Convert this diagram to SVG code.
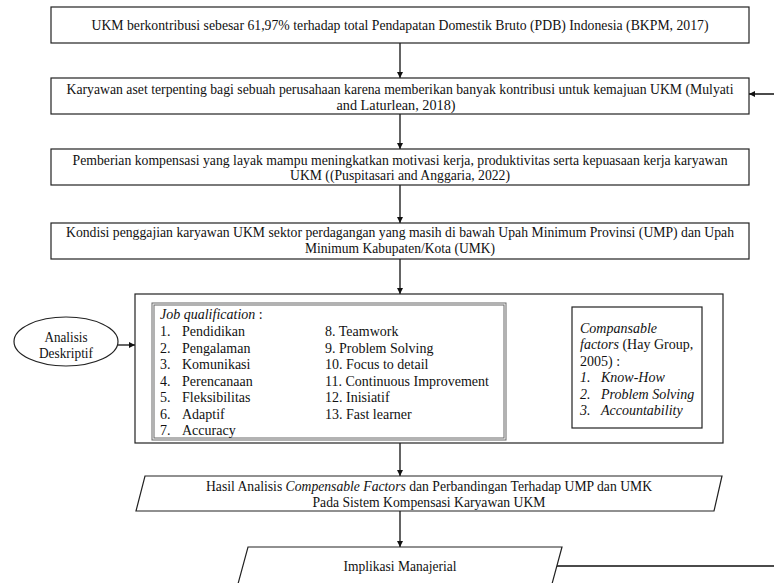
<svg xmlns="http://www.w3.org/2000/svg" width="774" height="583" viewBox="0 0 774 583">
<style>
.t{font-family:'Liberation Serif','Tinos','Times New Roman','DejaVu Serif',serif;font-size:14px;fill:#111}
.m{text-anchor:middle}
.l{font-size:14px}
.i{font-style:italic}
.b{fill:#fff;stroke:#222;stroke-width:1.2}
.g{fill:none;stroke:#666;stroke-width:1}
.c{fill:none;stroke:#111;stroke-width:1.3}
</style>
<defs>
<marker id="ah" viewBox="0 0 8 8" refX="8" refY="4" markerWidth="6" markerHeight="6" markerUnits="userSpaceOnUse" orient="auto">
<path d="M0,0 L8,4 L0,8 z" fill="#111"/>
</marker>
</defs>
<rect width="774" height="583" fill="#fff"/>
<g id="connectors">
<line class="c" x1="400" y1="43" x2="400" y2="78" marker-end="url(#ah)"/>
<line class="c" x1="400" y1="114" x2="400" y2="149" marker-end="url(#ah)"/>
<line class="c" x1="400" y1="185" x2="400" y2="223" marker-end="url(#ah)"/>
<line class="c" x1="400" y1="259" x2="400" y2="294" marker-end="url(#ah)"/>
<line class="c" x1="400" y1="443" x2="400" y2="476" marker-end="url(#ah)"/>
<line class="c" x1="400" y1="511" x2="400" y2="547" marker-end="url(#ah)"/>
<line class="c" x1="118" y1="345" x2="135" y2="345" marker-end="url(#ah)"/>
<polyline class="c" points="557,566 790,566 790,94 749,94" marker-end="url(#ah)"/>
</g>
<g id="n1">
<rect class="b" x="51" y="7" width="698" height="36"/>
<text class="t m" x="400" y="30" textLength="617" lengthAdjust="spacingAndGlyphs">UKM berkontribusi sebesar 61,97% terhadap total Pendapatan Domestik Bruto (PDB) Indonesia (BKPM, 2017)</text>
</g>
<g id="n2">
<rect class="b" x="51" y="78" width="698" height="36"/>
<text class="t m" x="400" y="94" textLength="667" lengthAdjust="spacingAndGlyphs">Karyawan aset terpenting bagi sebuah perusahaan karena memberikan banyak kontribusi untuk kemajuan UKM (Mulyati</text>
<text class="t m" x="396" y="110" textLength="119" lengthAdjust="spacingAndGlyphs">and Laturlean, 2018)</text>
</g>
<g id="n3">
<rect class="b" x="51" y="149" width="698" height="36"/>
<text class="t m" x="400" y="165" textLength="655" lengthAdjust="spacingAndGlyphs">Pemberian kompensasi yang layak mampu meningkatkan motivasi kerja, produktivitas serta kepuasaan kerja karyawan</text>
<text class="t m" x="400" y="180" textLength="220" lengthAdjust="spacingAndGlyphs">UKM ((Puspitasari and Anggaria, 2022)</text>
</g>
<g id="n4">
<rect class="b" x="51" y="223" width="698" height="36"/>
<text class="t m" x="400" y="237" textLength="668" lengthAdjust="spacingAndGlyphs">Kondisi penggajian karyawan UKM sektor perdagangan yang masih di bawah Upah Minimum Provinsi (UMP) dan Upah</text>
<text class="t m" x="400" y="253" textLength="190" lengthAdjust="spacingAndGlyphs">Minimum Kabupaten/Kota (UMK)</text>
</g>
<g id="n5">
<rect class="b" x="135" y="294" width="588" height="149"/>
<rect class="g" x="152" y="303" width="354" height="137"/>
<rect class="g" x="154" y="305" width="350" height="133"/>
<text class="t l" x="160" y="319"><tspan class="i">Job qualification</tspan> :</text>
<text class="t l" x="160" y="336">1.</text><text class="t l" x="182" y="336">Pendidikan</text>
<text class="t l" x="160" y="352.5">2.</text><text class="t l" x="182" y="352.5">Pengalaman</text>
<text class="t l" x="160" y="369">3.</text><text class="t l" x="182" y="369">Komunikasi</text>
<text class="t l" x="160" y="385.5">4.</text><text class="t l" x="182" y="385.5">Perencanaan</text>
<text class="t l" x="160" y="402">5.</text><text class="t l" x="182" y="402">Fleksibilitas</text>
<text class="t l" x="160" y="418.5">6.</text><text class="t l" x="182" y="418.5">Adaptif</text>
<text class="t l" x="160" y="435">7.</text><text class="t l" x="182" y="435">Accuracy</text>
<text class="t l" x="325" y="336">8. Teamwork</text>
<text class="t l" x="325" y="352.5">9. Problem Solving</text>
<text class="t l" x="325" y="369">10. Focus to detail</text>
<text class="t l" x="325" y="385.5">11. Continuous Improvement</text>
<text class="t l" x="325" y="402">12. Inisiatif</text>
<text class="t l" x="325" y="418.5">13. Fast learner</text>
</g>
<g id="n6">
<rect class="b" x="572" y="307" width="130" height="121"/>
<text class="t l i" x="580" y="333">Compansable</text>
<text class="t l" x="580" y="349"><tspan class="i">factors</tspan> (Hay Group,</text>
<text class="t l" x="580" y="366">2005) :</text>
<text class="t l i" x="580" y="382">1.</text><text class="t l i" x="601" y="382">Know-How</text>
<text class="t l i" x="580" y="399">2.</text><text class="t l i" x="601" y="399">Problem Solving</text>
<text class="t l i" x="580" y="415">3.</text><text class="t l i" x="601" y="415">Accountability</text>
</g>
<g id="n7">
<ellipse class="b" cx="66" cy="341.5" rx="52" ry="24.5"/>
<text class="t m" x="66" y="342" textLength="43" lengthAdjust="spacingAndGlyphs">Analisis</text>
<text class="t m" x="66" y="358" textLength="54" lengthAdjust="spacingAndGlyphs">Deskriptif</text>
</g>
<g id="n8">
<polygon class="b" points="145,476 722,476 714,511 136,511"/>
<text class="t m" x="429" y="490.5" textLength="446" lengthAdjust="spacingAndGlyphs">Hasil Analisis <tspan class="i">Compensable Factors</tspan> dan Perbandingan Terhadap UMP dan UMK</text>
<text class="t m" x="429" y="507" textLength="233" lengthAdjust="spacingAndGlyphs">Pada Sistem Kompensasi Karyawan UKM</text>
</g>
<g id="n9">
<polygon class="b" points="248,547 562,547 549,595 235,595"/>
<text class="t m" x="400" y="571" textLength="113" lengthAdjust="spacingAndGlyphs">Implikasi Manajerial</text>
</g>
</svg>
